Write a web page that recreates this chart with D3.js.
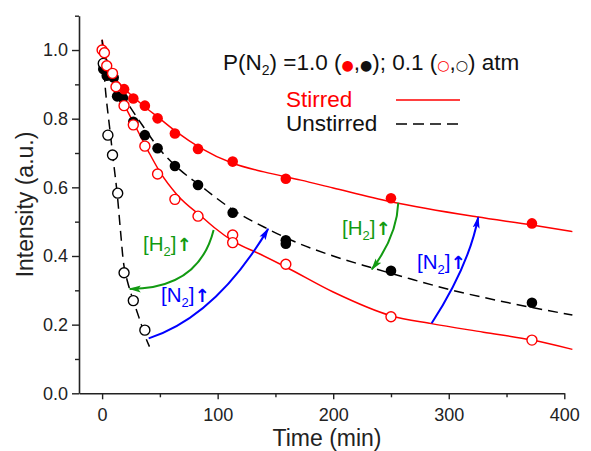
<!DOCTYPE html>
<html>
<head>
<meta charset="utf-8">
<script src="https://cdn.jsdelivr.net/npm/d3@7"></script>
<style>
  html, body { margin: 0; padding: 0; background: #fff; }
  svg text { font-family: "Liberation Sans", Arial, sans-serif; }
</style>
</head>
<body>
<svg id="chart" width="591" height="451"></svg>
<script>
// ---- measured points (time in min, normalised intensity) ----
const stirredHighT = [19, 27, 37, 48, 63, 83, 113, 159, 250, 372];
const stirredHighV = [0.886, 0.859, 0.838, 0.801, 0.757, 0.712, 0.675, 0.625, 0.568, 0.495];

const unstirredHighT = [1, 4, 10, 13, 18, 27, 37, 48, 63, 83, 113, 159, 159, 250, 372];
const unstirredHighV = [0.945, 0.925, 0.92, 0.865, 0.86, 0.791, 0.752, 0.714, 0.662, 0.607, 0.526, 0.446, 0.436, 0.357, 0.264];

const stirredLowT = [0, 2, 4, 9, 12, 19, 27, 37, 48, 63, 83, 113, 113, 159, 250, 372];
const stirredLowV = [1.0, 0.992, 0.954, 0.932, 0.893, 0.838, 0.782, 0.720, 0.639, 0.565, 0.516, 0.461, 0.439, 0.376, 0.223, 0.155];

const unstirredLowT = [1, 5, 9, 13.5, 19, 27, 37];
const unstirredLowV = [0.961, 0.752, 0.694, 0.583, 0.351, 0.270, 0.184];

// ---- fitted decay curves ----
const fitStirredHighT = [0, 10, 20, 35, 50, 65, 85, 113, 140, 172, 200, 250, 324, 372, 407];
const fitStirredHighV = [0.955, 0.92, 0.885, 0.84, 0.80, 0.76, 0.715, 0.67, 0.645, 0.621, 0.598, 0.558, 0.514, 0.49, 0.471];

const fitUnstirredHighT = [0, 10, 20, 35, 50, 65, 85, 113, 142, 170, 200, 232, 265, 301, 340, 372, 407];
const fitUnstirredHighV = [0.95, 0.905, 0.855, 0.78, 0.71, 0.658, 0.605, 0.535, 0.481, 0.437, 0.40, 0.367, 0.335, 0.302, 0.272, 0.25, 0.228];

const fitStirredLowT = [0, 5, 10, 20, 30, 40, 50, 65, 86, 97, 114, 137, 159, 200, 250, 285, 330, 372, 407];
const fitStirredLowV = [1.03, 0.955, 0.905, 0.835, 0.77, 0.705, 0.645, 0.578, 0.515, 0.483, 0.442, 0.405, 0.368, 0.295, 0.226, 0.203, 0.178, 0.155, 0.128];

const fitUnstirredLowT = [0, 3, 7, 10, 13, 16, 19, 22, 26, 30, 34, 38, 41];
const fitUnstirredLowV = [1.03, 0.88, 0.76, 0.67, 0.583, 0.47, 0.37, 0.325, 0.28, 0.24, 0.2, 0.16, 0.136];

// ---- axis ticks ----
const xMajorTicks = [0, 100, 200, 300, 400];
const xMinorTicks = [50, 150, 250, 350];
const yMajorTicks = [0.0, 0.2, 0.4, 0.6, 0.8, 1.0];
const yMinorTicks = [0.1, 0.3, 0.5, 0.7, 0.9, 1.1];

// ---- annotation arrows: start, control, end (data units) ----
const arrowColors = ["#129a12", "#0000ff", "#129a12", "#0000ff"];
const arrowStart = [[96.5, 0.476], [40.3, 0.160], [256.3, 0.555], [285.2, 0.204]];
const arrowCtrl  = [[83.8, 0.305], [98.6, 0.224], [255.2, 0.458], [317.5, 0.372]];
const arrowEnd   = [[23.9, 0.304], [143.7, 0.479], [233.4, 0.361], [325.5, 0.513]];
const arrowLabelGas = ["H", "N", "H", "N"];
const arrowLabelPos = [[143, 251], [161, 302], [342, 235], [417, 269]];

const RED = "#ff0000", BLACK = "#000000";

const svg = d3.select("#chart");

const x = d3.scaleLinear().domain([-20, 400]).range([79, 564.3]);
const y = d3.scaleLinear().domain([0, 1.1]).range([393.3, 15.7]);

// ---- axes ----
const axisColor = "#222";
const xAxis = svg.append("g").attr("transform", `translate(0,${y(0)})`)
  .call(d3.axisBottom(x).tickValues(xMajorTicks).tickSize(6).tickSizeOuter(0).tickPadding(5).tickFormat(d3.format("d")));
svg.append("g").attr("transform", `translate(0,${y(0)})`)
  .call(d3.axisBottom(x).tickValues(xMinorTicks).tickSize(4).tickSizeOuter(0).tickFormat(""))
  .select(".domain").remove();

const yAxis = svg.append("g").attr("transform", `translate(${x(-20)},0)`)
  .call(d3.axisLeft(y).tickValues(yMajorTicks).tickSize(7).tickSizeOuter(0).tickPadding(4).tickFormat(d3.format(".1f")));
svg.append("g").attr("transform", `translate(${x(-20)},0)`)
  .call(d3.axisLeft(y).tickValues(yMinorTicks).tickSize(4).tickSizeOuter(0).tickFormat(""))
  .select(".domain").remove();

svg.selectAll(".domain").attr("stroke", axisColor).attr("stroke-width", 1.6);
svg.selectAll(".tick line").attr("stroke", axisColor).attr("stroke-width", 1.4);
svg.selectAll(".tick text").attr("fill", "#222").attr("font-size", 18)
  .attr("font-family", '"Liberation Sans", Arial, sans-serif');
xAxis.selectAll(".tick text").attr("dy", "0.95em");

svg.append("text").attr("x", 327).attr("y", 446)
  .attr("text-anchor", "middle").attr("font-size", 23).attr("fill", "#222")
  .text("Time (min)");
svg.append("text")
  .attr("transform", `translate(33,${(y(0) + y(1.1)) / 2}) rotate(-90)`)
  .attr("text-anchor", "middle").attr("font-size", 23).attr("fill", "#222")
  .text("Intensity (a.u.)");

// ---- fitted curves ----
const line = d3.line().x(d => x(d[0])).y(d => y(d[1])).curve(d3.curveMonotoneX);
const zip = (ts, vs) => ts.map((t, i) => [t, vs[i]]);

svg.append("path").datum(zip(fitStirredHighT, fitStirredHighV))
  .attr("d", line).attr("fill", "none").attr("stroke", RED).attr("stroke-width", 1.5);
svg.append("path").datum(zip(fitStirredLowT, fitStirredLowV))
  .attr("d", line).attr("fill", "none").attr("stroke", RED).attr("stroke-width", 1.5);
svg.append("path").datum(zip(fitUnstirredHighT, fitUnstirredHighV))
  .attr("d", line).attr("fill", "none").attr("stroke", BLACK).attr("stroke-width", 1.5)
  .attr("stroke-dasharray", "10,6");
svg.append("path").datum(zip(fitUnstirredLowT, fitUnstirredLowV))
  .attr("d", d3.line().x(d => x(d[0])).y(d => y(d[1])).curve(d3.curveCatmullRom))
  .attr("fill", "none").attr("stroke", BLACK).attr("stroke-width", 1.5)
  .attr("stroke-dasharray", "10,6");

// ---- markers ----
function drawPoints(ts, vs, color, filled) {
  svg.append("g").selectAll("circle").data(zip(ts, vs)).join("circle")
    .attr("cx", d => x(d[0])).attr("cy", d => y(d[1])).attr("r", filled ? 5.3 : 5)
    .attr("fill", filled ? color : "#fff")
    .attr("stroke", color).attr("stroke-width", filled ? 0 : 1.4);
}
drawPoints(unstirredHighT, unstirredHighV, BLACK, true);
drawPoints(stirredHighT, stirredHighV, RED, true);
drawPoints(unstirredLowT, unstirredLowV, BLACK, false);
drawPoints(stirredLowT, stirredLowV, RED, false);

// ---- annotation arrows ----
const defs = svg.append("defs");
arrowColors.forEach((c, i) => {
  defs.append("marker").attr("id", "head" + i)
    .attr("viewBox", "0 0 12 8").attr("refX", 11).attr("refY", 4)
    .attr("markerWidth", 12).attr("markerHeight", 8)
    .attr("markerUnits", "userSpaceOnUse").attr("orient", "auto")
    .append("path").attr("d", "M0,0.5 L12,4 L0,7.5 L2.5,4 Z").attr("fill", c);
});
arrowColors.forEach((c, i) => {
  const p = d3.path();
  p.moveTo(x(arrowStart[i][0]), y(arrowStart[i][1]));
  p.quadraticCurveTo(x(arrowCtrl[i][0]), y(arrowCtrl[i][1]), x(arrowEnd[i][0]), y(arrowEnd[i][1]));
  svg.append("path").attr("d", p.toString()).attr("fill", "none")
    .attr("stroke", c).attr("stroke-width", 2).attr("marker-end", `url(#head${i})`);

  const t = svg.append("text").attr("x", arrowLabelPos[i][0]).attr("y", arrowLabelPos[i][1])
    .attr("font-size", 20.5).attr("fill", c);
  t.append("tspan").text("[" + arrowLabelGas[i]);
  t.append("tspan").attr("dy", 5).attr("font-size", 13).text("2");
  t.append("tspan").attr("dy", -5).text("]");
  t.append("tspan").attr("font-family", "DejaVu Sans").attr("font-size", 18).attr("font-weight", "bold").text("\u2191");
});

// ---- legend ----
const head = svg.append("text").attr("x", 223).attr("y", 70).attr("font-size", 22.5).attr("fill", "#111");
head.append("tspan").text("P(N");
head.append("tspan").attr("dy", 5).attr("font-size", 14).text("2");
head.append("tspan").attr("dy", -5).text(") =1.0 (");
head.append("tspan").attr("fill", RED).attr("font-size", 14).attr("font-family", "DejaVu Sans").text("\u25CF");
head.append("tspan").text(",");
head.append("tspan").attr("font-size", 14).attr("font-family", "DejaVu Sans").text("\u25CF");
head.append("tspan").text("); 0.1 (");
head.append("tspan").attr("fill", RED).attr("font-size", 14).attr("font-family", "DejaVu Sans").text("\u25CB");
head.append("tspan").text(",");
head.append("tspan").attr("font-size", 14).attr("font-family", "DejaVu Sans").text("\u25CB");
head.append("tspan").text(") atm");

svg.append("text").attr("x", 286).attr("y", 107).attr("font-size", 22.5).attr("fill", RED).text("Stirred");
svg.append("text").attr("x", 286).attr("y", 130.5).attr("font-size", 22.5).attr("fill", "#111").text("Unstirred");
svg.append("line").attr("x1", 396).attr("x2", 460).attr("y1", 100).attr("y2", 100)
  .attr("stroke", RED).attr("stroke-width", 1.5);
svg.append("line").attr("x1", 396).attr("x2", 460).attr("y1", 124).attr("y2", 124)
  .attr("stroke", BLACK).attr("stroke-width", 1.5).attr("stroke-dasharray", "11,6");
</script>
</body>
</html>
